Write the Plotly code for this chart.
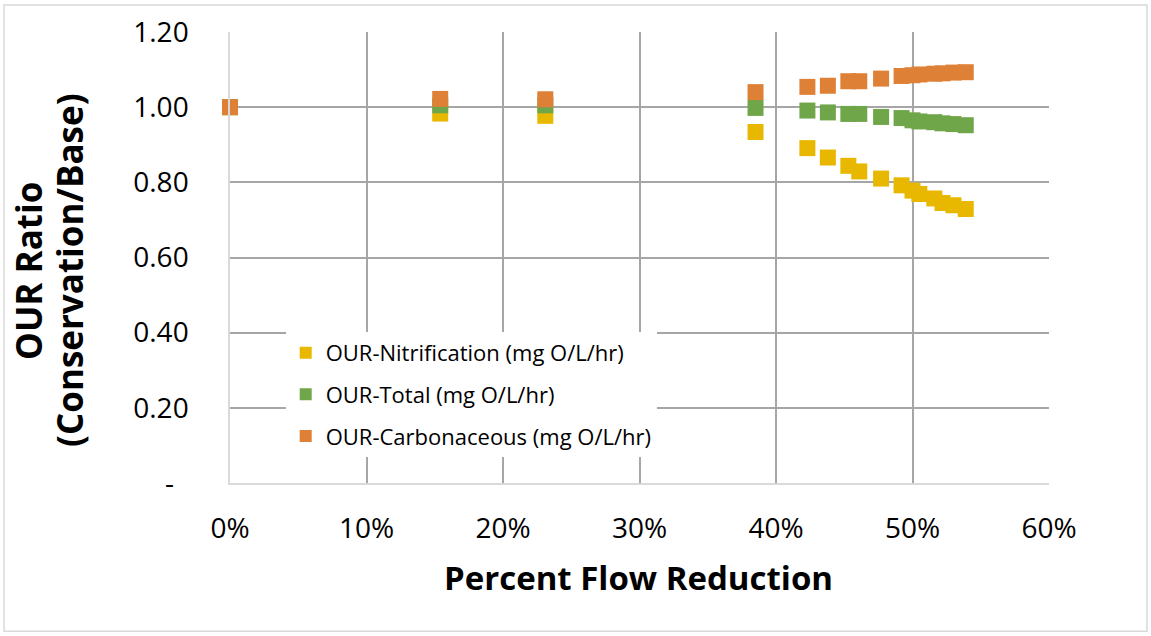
import plotly.graph_objects as go

flow_reduction = [0.0, 0.154, 0.231, 0.385, 0.423, 0.438, 0.453, 0.461, 0.477, 0.492,
                  0.500, 0.505, 0.516, 0.522, 0.530, 0.539]
our_nitrification = [1.000, 0.983, 0.977, 0.934, 0.891, 0.866, 0.844, 0.829, 0.810, 0.792,
                     0.778, 0.769, 0.757, 0.745, 0.739, 0.729]
our_total = [1.000, 1.005, 1.005, 0.998, 0.991, 0.986, 0.982, 0.982, 0.974, 0.971,
             0.965, 0.962, 0.960, 0.957, 0.955, 0.952]
our_carbonaceous = [1.000, 1.022, 1.021, 1.040, 1.054, 1.057, 1.069, 1.069, 1.076, 1.083,
                    1.085, 1.087, 1.089, 1.090, 1.092, 1.093]

series_names = ["OUR-Nitrification (mg O/L/hr)", "OUR-Total (mg O/L/hr)",
                "OUR-Carbonaceous (mg O/L/hr)"]
series_colors = ["#E8B800", "#70A64A", "#DE8036"]

y_tickvals = [0, 0.2, 0.4, 0.6, 0.8, 1.0, 1.2]
y_ticktext = ["-\u00a0\u00a0", "0.20", "0.40", "0.60", "0.80", "1.00", "1.20"]
x_tickvals = [0, 0.1, 0.2, 0.3, 0.4, 0.5, 0.6]

FONT = "'Open Sans', Lato, sans-serif"

fig = go.Figure()
for i, (name, vals) in enumerate(zip(series_names,
                                     [our_nitrification, our_total, our_carbonaceous])):
    fig.add_trace(go.Scatter(
        x=flow_reduction, y=vals, mode="markers", name=name,
        legendgroup=f"g{i}", cliponaxis=False,
        marker=dict(symbol="square", size=16, color=series_colors[i],
                    line=dict(width=0)),
    ))

fig.update_layout(
    width=1151, height=636,
    margin=dict(l=230, r=102, t=30, b=153),
    paper_bgcolor="white", plot_bgcolor="white",
    font=dict(family=FONT, color="black"),
    showlegend=True,
    legend=dict(
        x=0.068, y=0.335, xanchor="left", yanchor="top",
        bgcolor="white", borderwidth=0,
        font=dict(size=22, family=FONT, color="black"),
        itemsizing="constant", traceorder="grouped", tracegroupgap=10,
    ),
    xaxis=dict(
        range=[0, 0.6], tickvals=x_tickvals, tickformat=".0%",
        showgrid=True, gridcolor="#A6A6A6", gridwidth=1.5,
        showline=True, linecolor="#D9D9D9", linewidth=1.5,
        zeroline=False, ticks="", ticklabelstandoff=20,
        tickfont=dict(size=28, family=FONT, color="black"),
    ),
    yaxis=dict(
        range=[0, 1.2], tickvals=y_tickvals, ticktext=y_ticktext,
        showgrid=True, gridcolor="#A6A6A6", gridwidth=1.5,
        showline=True, linecolor="#D9D9D9", linewidth=1.5,
        zeroline=False, ticks="", ticklabelstandoff=34,
        tickfont=dict(size=28, family=FONT, color="black"),
    ),
    annotations=[
        dict(text="<b>Percent Flow Reduction</b>", xref="paper", yref="paper",
             x=(638 - 230) / 819, y=-(578 - 483) / 453, xanchor="center", yanchor="middle",
             showarrow=False, font=dict(size=33, family=FONT, color="black")),
        dict(text="<b>OUR Ratio</b>", xref="paper", yref="paper",
             x=-(230 - 29) / 819, y=(483 - 270) / 453, xanchor="center", yanchor="middle",
             textangle=-90, showarrow=False, font=dict(size=35, family=FONT, color="black")),
        dict(text="<b>(Conservation/Base)</b>", xref="paper", yref="paper",
             x=-(230 - 70) / 819, y=(483 - 270) / 453, xanchor="center", yanchor="middle",
             textangle=-90, showarrow=False, font=dict(size=35, family=FONT, color="black")),
    ],
    shapes=[
        dict(type="rect", xref="paper", yref="paper",
             x0=-(230 - 4) / 819, x1=(1147 - 230) / 819,
             y0=-(632 - 483) / 453, y1=(483 - 3) / 453,
             line=dict(color="#D9D9D9", width=1.5), fillcolor="rgba(0,0,0,0)", layer="below"),
    ],
)

fig.write_html("out.html")
